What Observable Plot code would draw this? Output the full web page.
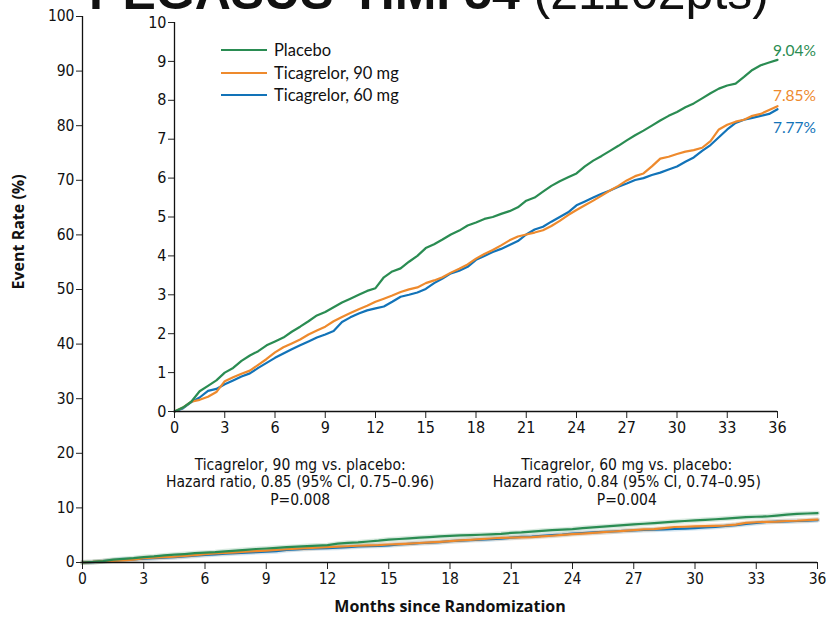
<!DOCTYPE html>
<html>
<head>
<meta charset="utf-8">
<script src="https://cdn.jsdelivr.net/npm/d3@7"></script>
<script src="https://cdn.jsdelivr.net/npm/@observablehq/plot@0.6"></script>
<style>
  body { margin: 0; background: white; }
  #wrap { position: relative; width: 829px; height: 619px; overflow: hidden; background: white; }
  #wrap > * { position: absolute; left: 0; top: 0; }
  #legend { left: 221px; top: 39px; font-family: Lato, "Open Sans", sans-serif; font-size: 16.5px; color: #111; }
  #legend .row { display: flex; align-items: center; height: 22.5px; }
  #legend .sw { display: inline-block; width: 46px; height: 0; border-top: 2.6px solid; margin-right: 7px; }
</style>
</head>
<body>
<div id="wrap"></div>
<script>
// ---- data ----
const months = [0,0.5,1,1.5,2,2.5,3,3.5,4,4.5,5,5.5,6,6.5,7,7.5,8,8.5,9,9.5,10,10.5,11,11.5,12,12.5,13,13.5,14,14.5,15,15.5,16,16.5,17,17.5,18,18.5,19,19.5,20,20.5,21,21.5,22,22.5,23,23.5,24,24.5,25,25.5,26,26.5,27,27.5,28,28.5,29,29.5,30,30.5,31,31.5,32,32.5,33,33.5,34,34.5,35,35.5,36];
const placebo = [0,0.1,0.25,0.52,0.66,0.8,1.0,1.12,1.3,1.44,1.55,1.7,1.8,1.9,2.05,2.18,2.32,2.47,2.56,2.68,2.8,2.9,3.0,3.1,3.17,3.45,3.6,3.68,3.85,4.0,4.2,4.3,4.42,4.55,4.65,4.78,4.86,4.95,5.0,5.08,5.15,5.25,5.42,5.5,5.65,5.8,5.92,6.02,6.12,6.3,6.45,6.57,6.7,6.83,6.97,7.1,7.22,7.35,7.48,7.6,7.7,7.82,7.92,8.05,8.18,8.3,8.38,8.43,8.6,8.78,8.9,8.97,9.04];
const tica90 = [0,0.1,0.25,0.3,0.38,0.5,0.78,0.88,0.97,1.05,1.2,1.35,1.52,1.65,1.75,1.85,1.98,2.08,2.18,2.32,2.43,2.53,2.63,2.72,2.82,2.9,2.98,3.07,3.14,3.19,3.3,3.37,3.45,3.57,3.67,3.78,3.93,4.05,4.15,4.27,4.4,4.5,4.55,4.6,4.66,4.77,4.9,5.05,5.18,5.3,5.42,5.55,5.68,5.8,5.94,6.05,6.12,6.3,6.5,6.55,6.62,6.68,6.72,6.78,6.95,7.25,7.37,7.45,7.5,7.6,7.65,7.75,7.85];
const tica60 = [0,0.08,0.24,0.36,0.53,0.58,0.7,0.8,0.9,0.98,1.12,1.25,1.38,1.49,1.6,1.7,1.8,1.9,1.98,2.07,2.3,2.42,2.52,2.6,2.65,2.7,2.82,2.95,3.0,3.06,3.15,3.3,3.42,3.55,3.62,3.72,3.9,4.0,4.1,4.18,4.28,4.38,4.55,4.68,4.75,4.88,5.0,5.12,5.3,5.4,5.5,5.6,5.68,5.78,5.86,5.95,6.0,6.08,6.14,6.22,6.3,6.42,6.53,6.7,6.85,7.05,7.25,7.42,7.5,7.55,7.6,7.65,7.77];
const seriesNames = ["Placebo", "Ticagrelor, 90 mg", "Ticagrelor, 60 mg"];
const seriesColors = ["#2a8c52", "#ee8a2d", "#1273b8"];
const endLabels = ["9.04%", "7.85%", "7.77%"];
const xTicks = [0,3,6,9,12,15,18,21,24,27,30,33,36];
const outerYTicks = [0,10,20,30,40,50,60,70,80,90,100];
const insetYTicks = [0,1,2,3,4,5,6,7,8,9,10];
const hrLabels = [
  "Ticagrelor, 90 mg vs. placebo:\nHazard ratio, 0.85 (95% CI, 0.75\u20130.96)\nP=0.008",
  "Ticagrelor, 60 mg vs. placebo:\nHazard ratio, 0.84 (95% CI, 0.74\u20130.95)\nP=0.004"
];
const hrMonths = [7.5, 27];
const titleBold = "PEGASUS-TIMI 54";
const titleRest = " (21162pts)";
const xLabel = "Months since Randomization";
const yLabel = "Event Rate (%)";

// ---- build table (draw order: 60 mg, 90 mg, placebo on top) ----
const valuesBySeries = [placebo, tica90, tica60];
const drawOrder = [2, 1, 0];
const rows = [];
for (const s of drawOrder) {
  months.forEach((m, i) => rows.push({month: m, rate: valuesBySeries[s][i], series: seriesNames[s]}));
}
const last = months.length - 1;
const ends = seriesNames.map((n, s) => ({series: n, month: months[last], rate: valuesBySeries[s][last], label: endLabels[s]}));
const endOffsets = [-9, -10, 19];
const color = {domain: seriesNames, range: seriesColors};
const tickFont = "'Liberation Sans Narrow', 'DejaVu Sans Condensed', 'Roboto', sans-serif";

const wrap = document.getElementById("wrap");

// ---- outer chart ----
const outer = Plot.plot({
  width: 829, height: 619,
  marginLeft: 82, marginRight: 12, marginTop: 16, marginBottom: 57,
  style: {fontFamily: tickFont, fontSize: "15px", color: "#111", background: "transparent", overflow: "visible"},
  x: {domain: [0, 36]},
  y: {domain: [0, 100]},
  color,
  marks: [
    Plot.line(rows, {x: "month", y: "rate", z: "series", stroke: "series", strokeWidth: 5, strokeOpacity: 0.18}),
    Plot.line(rows, {x: "month", y: "rate", z: "series", stroke: "series", strokeWidth: 2.2}),
    Plot.axisX({ticks: xTicks, tickSize: 7, tickPadding: 3, label: null, fontSize: 15.5, stroke: "#222"}),
    Plot.axisY({ticks: outerYTicks, tickSize: 6, tickPadding: 2, label: null, fontSize: 15.5, stroke: "#222"}),
    Plot.ruleX([0], {stroke: "#111", strokeWidth: 1.3}),
    Plot.ruleY([0], {stroke: "#111", strokeWidth: 1.3}),
    Plot.text([xLabel], {frameAnchor: "bottom", dy: 49, fontFamily: "'Open Sans', sans-serif", fontWeight: "bold", fontSize: 16, fill: "#111"}),
    Plot.text([yLabel], {frameAnchor: "left", dx: -64, rotate: -90, fontFamily: "'Open Sans', sans-serif", fontWeight: "bold", fontSize: 16, fill: "#111"})
  ]
});
wrap.appendChild(outer);

// ---- inset chart ----
const inset = Plot.plot({
  width: 829, height: 619,
  marginLeft: 174, marginRight: 52, marginTop: 22, marginBottom: 208,
  style: {fontFamily: tickFont, fontSize: "15px", color: "#111", background: "transparent", overflow: "visible"},
  x: {domain: [0, 36]},
  y: {domain: [0, 10]},
  color,
  marks: [
    Plot.line(rows, {x: "month", y: "rate", z: "series", stroke: "series", strokeWidth: 2.2}),
    Plot.axisX({ticks: xTicks, tickSize: 7, tickPadding: 3, label: null, fontSize: 16, stroke: "#222"}),
    Plot.axisY({ticks: insetYTicks, tickSize: 6, tickPadding: 2, label: null, fontSize: 16, stroke: "#222"}),
    Plot.ruleX([0], {stroke: "#111", strokeWidth: 1.3}),
    Plot.ruleY([0], {stroke: "#111", strokeWidth: 1.3}),
    ...ends.map((e, k) => Plot.text([e], {x: "month", y: "rate", text: "label", fill: "series", dx: 17, dy: endOffsets[k],
      fontFamily: "Lato, 'Open Sans', sans-serif", fontSize: 15.5})),
    Plot.text(hrLabels, {x: (d, i) => hrMonths[i], frameAnchor: "bottom", dy: 70, lineAnchor: "middle", lineHeight: 1.13, fontSize: 15.5, fill: "#111"})
  ]
});
wrap.appendChild(inset);

// ---- title ----
const tsvg = d3.create("svg").attr("width", 829).attr("height", 40).style("overflow", "visible");
const tt = tsvg.append("text").attr("x", 429).attr("y", 9).attr("text-anchor", "middle")
  .attr("font-family", "'Liberation Sans', Arial, sans-serif").attr("font-size", 50).attr("fill", "#111");
tt.append("tspan").attr("font-weight", "bold").text(titleBold);
tt.append("tspan").text(titleRest);
wrap.appendChild(tsvg.node());

// ---- legend ----
const legend = d3.select(wrap).append("div").attr("id", "legend");
seriesNames.forEach((n, i) => {
  const r = legend.append("div").attr("class", "row");
  r.append("span").attr("class", "sw").style("border-top-color", seriesColors[i]);
  r.append("span").text(n);
});
</script>
</body>
</html>
